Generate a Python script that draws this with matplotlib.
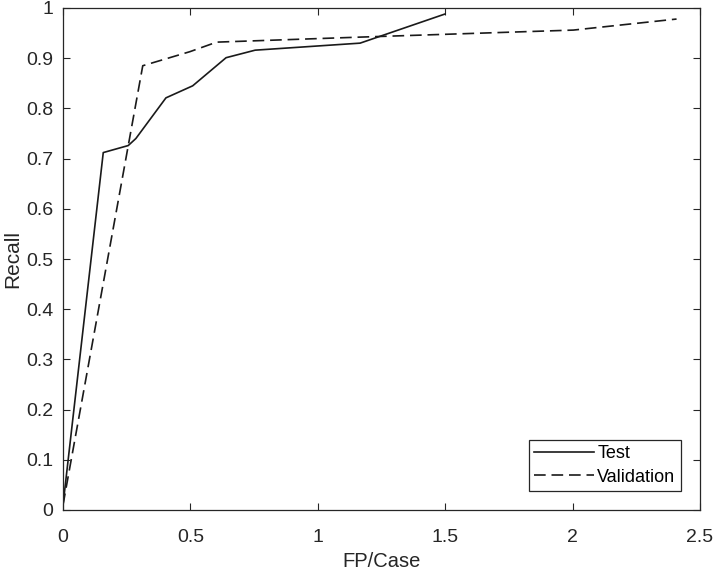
import matplotlib
matplotlib.use("Agg")
import matplotlib.pyplot as plt

plt.rcParams['font.family'] = ['Liberation Sans', 'DejaVu Sans']

# test curve
test_fp = [0.0, 0.158, 0.256, 0.286, 0.404, 0.509, 0.640, 0.754, 1.166, 1.499]
test_recall = [0.01, 0.712, 0.726, 0.740, 0.821, 0.845, 0.901, 0.916, 0.930, 0.988]

# validation curve
val_fp = [0.0, 0.313, 0.498, 0.603, 1.166, 2.003, 2.408]
val_recall = [0.01, 0.885, 0.913, 0.932, 0.942, 0.956, 0.978]

x_ticks = [0, 0.5, 1, 1.5, 2, 2.5]
x_labels = ['0', '0.5', '1', '1.5', '2', '2.5']
y_ticks = [0, 0.1, 0.2, 0.3, 0.4, 0.5, 0.6, 0.7, 0.8, 0.9, 1]
y_labels = ['0', '0.1', '0.2', '0.3', '0.4', '0.5', '0.6', '0.7', '0.8', '0.9', '1']

fig = plt.figure(figsize=(7.14, 5.7), dpi=100)
ax = fig.add_axes([63/714, 1-510/570, (700-63)/714, (510-8)/570])

line_color = '#1a1a1a'
ax.plot(test_fp, test_recall, color=line_color, lw=1.2, label='Test')
ax.plot(val_fp, val_recall, color=line_color, lw=1.2, linestyle=(0, (7, 3.5)), label='Validation')

ax.set_xlim(0, 2.5)
ax.set_ylim(0, 1)
ax.set_xticks(x_ticks)
ax.set_xticklabels(x_labels)
ax.set_yticks(y_ticks)
ax.set_yticklabels(y_labels)

ax.tick_params(direction='in', top=True, right=True, length=5, width=0.8,
               labelsize=14, colors='#262626')
ax.tick_params(axis='x', pad=14)
ax.tick_params(axis='y', pad=7)
for s in ax.spines.values():
    s.set_linewidth(0.9)
    s.set_color('#262626')

ax.set_xlabel('FP/Case', fontsize=14.5, color='#262626', labelpad=4)
ax.set_ylabel('Recall', fontsize=15, color='#262626', labelpad=3)

leg = ax.legend(loc='lower right', bbox_to_anchor=(0.97, 0.038), fontsize=13,
                fancybox=False, framealpha=1, edgecolor='#262626',
                handlelength=3.3, handletextpad=0.2, borderpad=0.3,
                labelspacing=0.35, borderaxespad=0)
leg.get_frame().set_linewidth(0.9)

fig.savefig('out.png', dpi=100)
